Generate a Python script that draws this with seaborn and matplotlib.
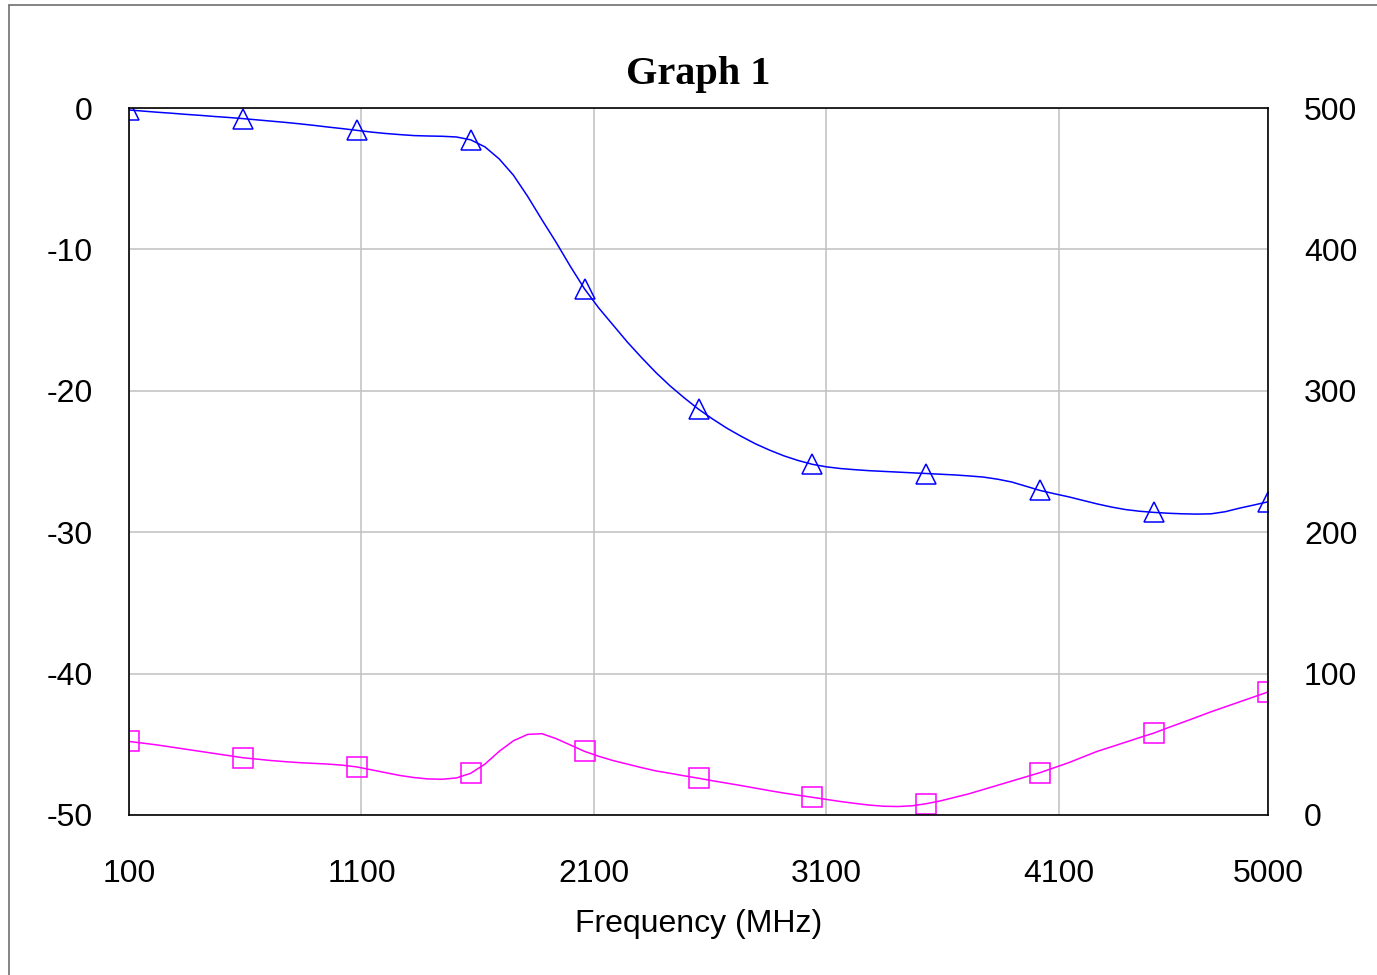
import numpy as np
import pandas as pd
import matplotlib
matplotlib.use("Agg")
import matplotlib.pyplot as plt
from matplotlib.lines import Line2D
import seaborn as sns

# ---- data ----
freq_mhz = [100 + 61.25 * k for k in range(81)]
blue_db = [-0.14, -0.22, -0.30, -0.37, -0.45, -0.52, -0.60, -0.67, -0.75, -0.84,
           -0.93, -1.02, -1.12, -1.23, -1.35, -1.46, -1.58, -1.70, -1.80, -1.88,
           -1.95, -1.98, -2.00, -2.05, -2.25, -2.75, -3.60, -4.75, -6.25, -7.90,
           -9.50, -11.20, -12.80, -14.15, -15.35, -16.55, -17.65, -18.70, -19.65, -20.50,
           -21.30, -22.00, -22.65, -23.22, -23.75, -24.20, -24.60, -24.93, -25.20, -25.38,
           -25.50, -25.58, -25.65, -25.70, -25.75, -25.80, -25.85, -25.90, -25.95, -26.02,
           -26.10, -26.25, -26.45, -26.75, -27.05, -27.28, -27.50, -27.75, -28.00, -28.22,
           -28.40, -28.52, -28.60, -28.66, -28.70, -28.72, -28.70, -28.55, -28.30, -28.08,
           -27.85]
magenta_db = [-44.80, -44.92, -45.05, -45.20, -45.35, -45.50, -45.65, -45.80, -45.95, -46.05,
              -46.15, -46.23, -46.30, -46.35, -46.40, -46.48, -46.60, -46.80, -47.00, -47.20,
              -47.35, -47.45, -47.47, -47.38, -47.05, -46.40, -45.50, -44.75, -44.30, -44.25,
              -44.60, -45.05, -45.50, -45.85, -46.15, -46.40, -46.65, -46.88, -47.05, -47.23,
              -47.40, -47.58, -47.75, -47.92, -48.10, -48.28, -48.45, -48.60, -48.75, -48.90,
              -49.05, -49.18, -49.30, -49.38, -49.40, -49.35, -49.20, -49.00, -48.75, -48.50,
              -48.20, -47.90, -47.60, -47.30, -47.00, -46.65, -46.30, -45.90, -45.50, -45.18,
              -44.85, -44.52, -44.20, -43.82, -43.45, -43.08, -42.70, -42.35, -42.00, -41.65,
              -41.30]
x_ticks = [100, 1100, 2100, 3100, 4100, 5000]
left_ticks = [0, -10, -20, -30, -40, -50]
right_ticks = [0, 100, 200, 300, 400, 500]
title = "Graph 1"
xlabel = "Frequency (MHz)"

df = pd.DataFrame({"freq": freq_mhz, "blue": blue_db, "magenta": magenta_db})

sns.set_theme(style="white")
plt.rcParams["font.family"] = ["Liberation Sans", "DejaVu Sans"]

fig = plt.figure(figsize=(13.77, 9.75), dpi=100)
ax = fig.add_axes([129 / 1377, 1 - 815 / 975, (1268 - 129) / 1377, (815 - 108) / 975])

line_w = 1.1
ms = 15
sns.lineplot(data=df, x="freq", y="blue", ax=ax, color="#0000ff", linewidth=line_w,
             marker="^", markersize=ms, markerfacecolor="none", markeredgecolor="#0000ff",
             markeredgewidth=1.1, markevery=8)
sns.lineplot(data=df, x="freq", y="magenta", ax=ax, color="#ff00ff", linewidth=line_w,
             marker="s", markersize=ms, markerfacecolor="none", markeredgecolor="#ff00ff",
             markeredgewidth=1.1, markevery=8)

ax.set_xlim(100, 5000)
ax.set_ylim(-50, 0)
ax.set_xticks(x_ticks)
ax.set_xticklabels([str(t) for t in x_ticks])
ax.set_yticks(left_ticks)
ax.set_yticklabels([str(t) for t in left_ticks])
ax.grid(True, color="#c0c0c0", linewidth=1.1)
ax.set_axisbelow(True)
ax.tick_params(axis="both", length=0, labelsize=23, colors="black")
ax.tick_params(axis="y", pad=26)
ax.tick_params(axis="x", pad=32)
ax.set_xlabel(xlabel, fontsize=23, labelpad=14, color="black")
ax.set_ylabel("")
for sp in ax.spines.values():
    sp.set_visible(True)
    sp.set_color("black")
    sp.set_linewidth(1.2)

ax2 = ax.twinx()
ax2.set_ylim(0, 500)
ax2.set_yticks(right_ticks)
ax2.set_yticklabels([str(t) for t in right_ticks])
ax2.tick_params(axis="y", length=0, labelsize=23, pad=26, colors="black")
ax2.grid(False)
for sp in ax2.spines.values():
    sp.set_visible(False)

ax.set_title(title, fontsize=29, fontweight="bold", pad=17,
             family=["Liberation Serif", "DejaVu Serif"], color="black")

# outer frame lines (top and left visible in the reference)
fx = 8.5 / 1377
fy = 1 - 4.5 / 975
fig.add_artist(Line2D([fx, fx], [0, fy], transform=fig.transFigure, color="#707070", linewidth=1.2))
fig.add_artist(Line2D([fx, 1], [fy, fy], transform=fig.transFigure, color="#707070", linewidth=1.2))

fig.savefig("out.png", dpi=100, facecolor="white")
